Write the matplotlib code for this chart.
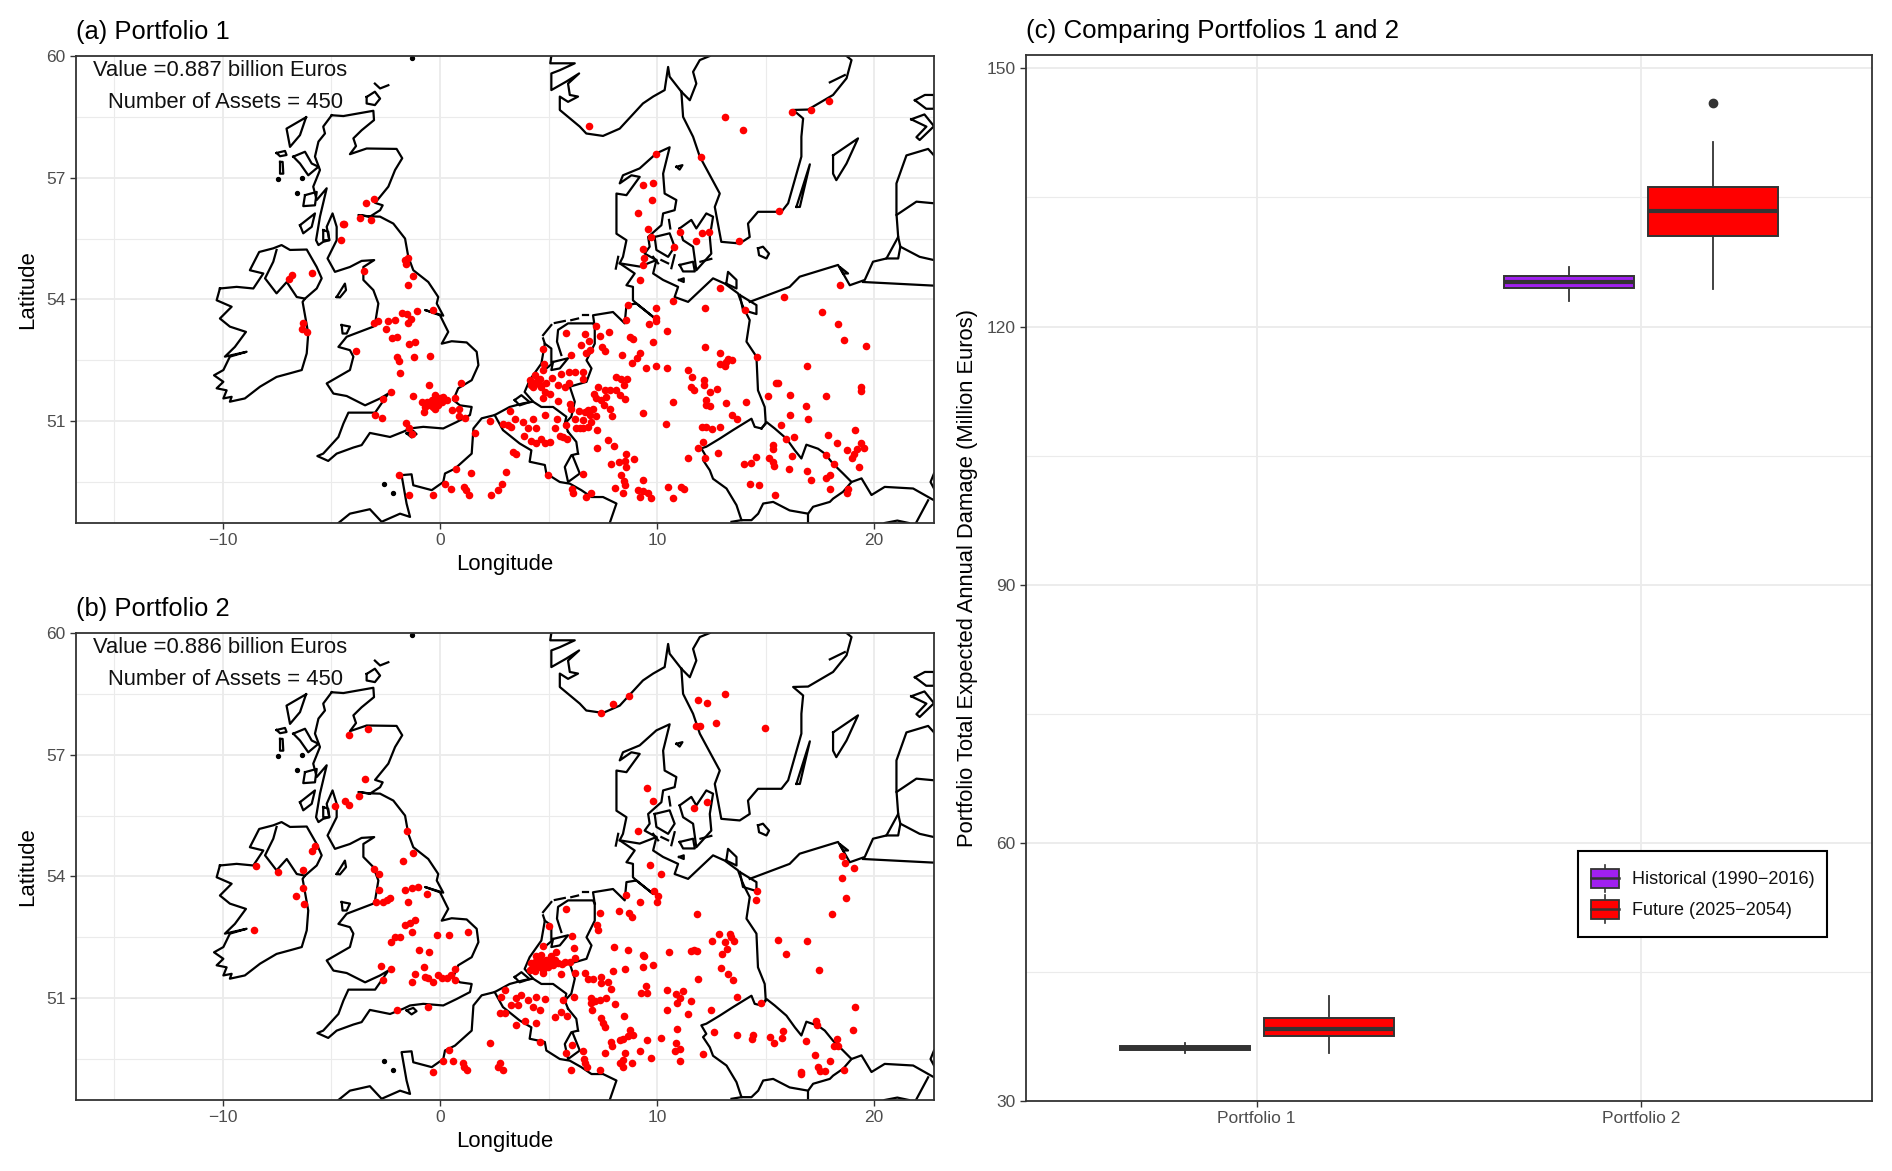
import numpy as np
import matplotlib
matplotlib.use('Agg')
import matplotlib.pyplot as plt
from matplotlib.legend_handler import HandlerBase
from matplotlib.lines import Line2D
from matplotlib.patches import Patch, Rectangle

plt.rcParams['font.family'] = ['Liberation Sans', 'DejaVu Sans']

# Outlines as (lon, lat)
great_britain = [(-4.99,58.54),(-4.45,58.52),(-3.07,58.65),(-3.04,58.42),(-3.61,58.17),(-3.99,57.97),(-3.87,57.78),(-4.15,57.58),
    (-3.38,57.72),(-2.0,57.71),(-1.74,57.48),(-2.07,57.19),(-2.38,56.78),(-2.99,56.38),(-2.64,56.32),(-2.76,56.2),(-3.23,56.04),
    (-3.76,56.08),(-3.3,56.05),(-2.76,56.04),(-2.15,55.87),(-1.61,55.5),(-1.46,55.05),(-1.23,54.72),(-0.54,54.43),(-0.08,54.06),
    (-0.15,53.9),(0.15,53.6),(-0.69,53.74),(0,53.61),(0.38,53.2),(0.08,52.91),(0.54,52.97),(1.23,52.94),(1.69,52.71),(1.77,52.38),
    (1.46,52.01),(0.84,51.81),(0.61,51.52),(0.92,51.39),(1.46,51.35),(1.38,51.15),(0.77,50.98),(0.15,50.82),(-0.77,50.86),(-1.38,50.82),
    (-1.69,50.74),(-2.3,50.61),(-3.23,50.71),(-3.61,50.41),(-3.99,50.35),(-4.76,50.2),(-5.15,50.02),(-5.65,50.14),(-5.38,50.2),
    (-4.68,50.61),(-4.45,50.94),(-4.22,51.21),(-2.99,51.21),(-2.38,51.68),(-2.76,51.56),(-3.45,51.39),(-4.3,51.62),(-4.91,51.68),
    (-5.22,51.93),(-4.15,52.26),(-3.99,52.59),(-4.15,52.75),(-4.68,52.83),(-4.3,53.08),(-3.07,53.33),(-2.99,53.41),(-2.84,53.9),
    (-3.07,54.23),(-3.53,54.48),(-3.53,54.8),(-3.03,54.97),(-3.61,54.95),(-4.15,54.8),(-4.84,54.68),(-5.18,55.01),(-4.76,55.46),
    (-4.76,55.79),(-4.95,56.12),(-5.22,55.79),(-5.1,55.46),(-5.38,55.42),(-5.6,55.34),(-5.71,55.46),(-5.53,56.04),(-5.22,56.74),
    (-5.68,56.45),(-5.84,56.78),(-5.53,57.19),(-5.76,57.52),(-5.6,57.89),(-5.3,58.09),(-5.38,58.26),(-4.99,58.54)]
ireland = [(-10.14,54.27),(-9.37,54.31),(-8.6,54.27),(-8.14,54.64),(-8.76,54.72),(-8.33,55.17),(-7.68,55.26),(-7.3,55.34),(-6.91,55.22),
    (-6.14,55.23),(-5.68,54.8),(-5.45,54.52),(-5.68,54.27),(-6.22,54.02),(-6.33,53.94),(-6.07,53.16),(-6.14,52.67),(-6.37,52.26),
    (-6.91,52.18),(-7.53,52.09),(-8.29,51.85),(-8.99,51.56),(-9.68,51.48),(-9.6,51.6),(-9.98,51.56),(-9.83,51.76),(-10.29,51.81),
    (-9.98,51.97),(-10.41,52.13),(-9.98,52.26),(-9.68,52.59),(-8.91,52.71),(-9.91,52.59),(-9.45,52.83),(-8.94,53.2),(-9.68,53.33),
    (-10.14,53.53),(-9.6,53.82),(-10.29,53.98),(-10.14,54.27)]
ni_border = [(-7.53,55.22),(-7.68,54.93),(-8.06,54.52),(-7.53,54.15),(-7.06,54.43),(-6.6,54.06),(-6.22,54.02)]
lewis = [(-6.17,58.49),(-7.07,58.21),(-6.91,57.76),(-6.45,58.05),(-6.17,58.49)]
uist = [(-7.37,57.39),(-7.25,57.39),(-7.22,57.1),(-7.37,57.1),(-7.37,57.39)]
barra = [(-7.53,57.61),(-7.14,57.66),(-7.07,57.56),(-7.37,57.53),(-7.53,57.61)]
skye = [(-6.76,57.52),(-6.22,57.64),(-5.91,57.35),(-5.6,57.27),(-6.07,57.06),(-6.45,57.35),(-6.76,57.52)]
mull = [(-6.22,56.57),(-5.68,56.65),(-5.76,56.32),(-6.3,56.3),(-6.22,56.57)]
jura = [(-6.45,55.83),(-5.76,56.12),(-5.91,55.79),(-6.3,55.63),(-6.45,55.83)]
arran = [(-5.38,55.71),(-5.15,55.67),(-5.1,55.46),(-5.38,55.46),(-5.38,55.71)]
orkney = [(-3.38,58.99),(-3.0,59.12),(-2.76,58.95),(-3.0,58.79),(-3.38,58.83),(-3.38,58.99)]
shetland = [(-3.0,59.32),(-2.76,59.2),(-2.38,59.28)]
isle_of_man = [(-4.76,54.06),(-4.38,54.39),(-4.33,54.23),(-4.61,54.05),(-4.76,54.06)]
anglesey = [(-4.53,53.37),(-4.15,53.33),(-4.3,53.16),(-4.49,53.16),(-4.53,53.37)]
wight = [(-1.54,50.7),(-1.23,50.76),(-1.08,50.68),(-1.31,50.6),(-1.54,50.7)]

france_coast = [(-4.68,48.49),(-4.15,48.72),(-3.23,48.83),(-2.69,48.52),(-1.84,48.72),(-1.38,48.64),(-1.54,48.97),(-1.77,49.67),
    (-1.31,49.69),(-1.23,49.42),(-0.38,49.3),(0.15,49.5),(0.23,49.71),(0.69,49.83),(1.46,50.2),(1.54,50.82),(1.92,51.07),(2.52,51.15),
    (3.21,51.35),(3.83,51.44),(4.29,51.48),(3.9,51.72),(4.13,52.01),(4.67,52.42),(4.83,52.91),(4.75,53.04)]
holland_inner = [(4.83,52.91),(5.13,52.79),(5.13,52.4),(4.9,52.3)]
friesland = [(5.59,52.63),(5.39,52.96),(5.44,53.25),(5.9,53.41),(7.05,53.41),(7.13,53.33)]
flevoland = [(5.21,52.46),(5.9,52.55),(5.52,52.3),(5.13,52.26),(5.21,52.46)]
wadden_1 = [(4.75,53.12),(5.13,53.37)]
wadden_2 = [(5.29,53.42),(5.75,53.47)]
wadden_3 = [(6.05,53.49),(6.36,53.53)]
wadden_4 = [(6.59,53.61),(6.82,53.61)]
zeeland = [(3.44,51.52),(3.75,51.64),(4.13,51.47),(3.67,51.39),(3.44,51.52)]
nl_de_border = [(7.13,53.33),(7.13,52.91),(6.75,52.5),(6.98,52.3),(6.75,51.97),(5.98,51.85),(6.21,51.48),(6.05,51.11),(5.75,50.94),(5.9,50.74)]
nl_be_border = [(4.29,51.48),(4.67,51.35),(5.21,51.35),(5.82,51.11),(5.75,50.94)]
be_de_border = [(5.9,50.74),(6.28,50.49),(6.36,50.2)]
luxembourg = [(6.36,50.2),(6.05,50.16),(5.75,49.87),(5.9,49.5),(6.44,49.71),(6.13,50.12)]
fr_border = [(2.52,51.15),(2.9,50.78),(3.67,50.45),(4.21,50.28),(4.13,50.0),(4.83,49.92),(4.9,49.71),(5.52,49.5),(5.98,49.46),
    (6.51,49.3),(6.98,49.13),(7.51,49.13),(8.13,48.97),(7.82,48.49)]

north_coast = [(7.13,53.33),(7.05,53.61),(7.97,53.69),(8.28,53.53),(8.51,53.41),(8.59,53.86),(9.05,53.9),(9.82,53.57),(9.05,53.9),
    (8.89,53.98),(8.89,54.31),(8.59,54.35),(8.97,54.64),(8.28,54.89),(8.43,55.05),(8.59,55.46),(8.13,55.62),(8.13,56.61),(8.59,56.57),
    (9.2,57.02),(8.82,57.06),(8.28,56.86),(8.43,57.06),(9.2,57.23),(9.97,57.6),(10.58,57.75),(10.28,57.1),(10.35,56.61),(10.89,56.45),
    (10.81,56.2),(10.28,56.12),(10.2,55.83),(9.59,55.54),(9.66,55.3),(9.43,55.13),(9.97,54.97),(9.82,54.64),(10.28,54.48),(10.97,54.31),
    (10.81,54.06),(11.43,53.94),(12.58,54.52),(13.12,54.39),(13.73,54.15),(13.96,53.82)]
dk_de_border = [(8.28,54.89),(9.2,54.81),(9.97,54.97)]
baltic_coast = [(14.27,53.94),(16.11,54.31),(16.57,54.56),(18.34,54.85),(18.57,54.64),(18.8,54.64),(18.42,54.8),(18.57,54.64),(18.88,54.35),
    (19.57,54.48),(19.95,54.93),(20.57,55.01),(21.11,55.54),(21.03,56.12),(21.03,56.86),(21.49,57.55),(22.49,57.71),(22.76,57.55)]
szczecin = [(13.81,54.11),(14.58,53.86),(14.58,53.64),(13.96,53.74),(13.81,54.11)]
pl_de_border = [(13.96,53.82),(14.27,53.49),(14.12,52.96),(14.58,52.59),(14.65,51.76),(14.96,51.35),(15.01,50.94),(14.81,50.82)]
kaliningrad = [(19.49,54.43),(22.76,54.34)]
latvia_border = [(21.03,56.08),(21.95,56.41),(22.76,56.37)]
lith_border = [(20.57,55.01),(21.11,55.01),(21.21,55.3),(22.1,55.05),(22.76,54.97)]
lith_link = [(21.11,55.54),(21.21,55.3)]

czechia = [(14.81,50.82),(14.5,50.86),(14.35,51.06),(13.5,50.78),(12.89,50.57),(12.27,50.37),(12.04,50.33),(12.27,50.12),(12.12,50.04),
    (12.43,49.79),(12.58,49.58),(13.2,49.34),(13.66,48.93),(13.89,48.56),(14.35,48.56),(14.66,48.72),(14.89,48.97),(15.35,49.01),(16.11,48.8),
    (16.96,48.72),(17.19,48.89),(17.96,49.01),(18.11,49.09),(18.57,49.26),(18.96,49.5),(18.57,49.71),(18.11,49.95),(17.73,50.2),(17.42,50.32),
    (16.88,50.42),(16.65,50.08),(16.35,50.28),(15.96,50.57),(15.42,50.82),(15.04,50.98),(14.81,50.82)]
slovak_border = [(18.96,49.5),(19.42,49.59),(19.88,49.18),(20.49,49.38),(21.8,49.34),(22.76,49.05)]
south_line_1 = [(16.96,48.72),(16.96,48.49)]
south_line_2 = [(22.49,49.05),(21.93,48.49)]
south_line_3 = [(13.89,48.56),(13.43,48.52)]
south_line_4 = [(20.49,48.49),(21.07,48.55),(21.6,48.49)]
south_line_5 = [(22.76,49.71),(22.6,49.5),(22.76,49.34)]

norway = [(5.13,60.0),(5.08,59.82),(6.21,59.82),(5.52,59.65),(5.13,59.57),(5.13,59.16),(5.82,59.37),(6.41,59.57),(5.9,59.32),(5.98,59.04),
    (6.36,59.0),(5.9,58.87),(5.52,59.0),(5.52,58.67),(6.44,58.26),(6.74,58.09),(7.51,58.03),(8.28,58.21),(9.35,58.83),(9.82,59.0),
    (10.35,59.16),(10.51,59.73),(10.58,59.49),(11.12,59.12)]
no_se_border = [(11.12,59.12),(11.51,58.91),(11.81,59.32),(11.66,59.61),(11.97,59.9),(12.43,60.0)]
sweden = [(11.12,59.12),(11.2,58.5),(11.66,58.01),(11.97,57.52),(12.89,56.61),(12.66,56.28),(12.96,55.42),(13.81,55.38),(14.27,55.54),
    (14.19,55.87),(14.65,56.16),(15.73,56.16),(16.04,56.37),(16.65,57.52),(16.65,58.01),(16.73,58.46),(16.27,58.67),(16.96,58.68),
    (18.11,59.04),(18.73,59.45),(18.96,59.9),(18.73,60.0)]

funen = [(9.89,55.54),(10.58,55.63),(10.81,55.3),(10.51,55.05),(9.97,55.22),(9.89,55.54)]
zealand = [(11.04,55.75),(11.58,55.96),(11.81,55.75),(12.27,56.12),(12.58,56.04),(12.43,55.54),(12.5,55.13),(11.81,54.72),(11.66,55.3),(11.2,55.46),(11.04,55.75)]
lolland = [(11.04,54.85),(11.66,54.93),(11.74,54.69),(11.2,54.69),(11.04,54.85)]
falster = [(12.0,54.93),(12.5,55.0)]
samso = [(10.55,55.96),(10.61,55.75)]
langeland = [(10.81,55.09),(10.66,54.77)]
laeso = [(10.89,57.27),(11.17,57.31),(11.04,57.2),(10.89,57.27)]
aero = [(9.82,55.05),(10.05,54.89)]
aero_2 = [(10.2,54.97),(10.51,54.89)]
fehmarn = [(11.01,54.48),(11.23,54.52),(11.23,54.43),(11.01,54.48)]
sylt = [(8.21,55.05),(8.1,54.76)]
rugen = [(13.19,54.39),(13.27,54.68),(13.66,54.48),(13.66,54.27),(13.19,54.39)]
bornholm = [(14.65,55.26),(14.88,55.3),(15.16,55.13),(15.04,55.01),(14.7,55.09),(14.65,55.26)]
oland = [(16.42,56.28),(17.04,57.33),(16.58,56.28),(16.42,56.28)]
gotland = [(18.11,57.55),(19.26,57.97),(18.73,57.35),(18.26,56.94),(18.11,57.1),(18.11,57.55)]
stockholm = [(17.96,59.35),(18.65,59.53)]
saaremaa = [(21.88,58.91),(22.34,59.04),(22.76,59.04),(22.76,58.7),(22.4,58.7),(21.88,58.91)]
hiiumaa = [(21.71,58.44),(22.32,58.56),(22.76,58.27),(22.1,57.93),(21.95,58.0),(22.41,58.26),(21.71,58.44)]
small_islets = [(-7.48,56.98),(-6.34,57.0),(-6.57,56.63),(-1.27,59.94),(-2.57,49.46),(-2.15,49.22)]

outlines = [great_britain, ireland, ni_border, lewis, uist, barra, skye, mull, jura, arran, orkney, shetland, isle_of_man, anglesey, wight,
    france_coast, holland_inner, friesland, flevoland, wadden_1, wadden_2, wadden_3, wadden_4, zeeland, nl_de_border, nl_be_border,
    be_de_border, luxembourg, fr_border, north_coast, dk_de_border, baltic_coast, szczecin, pl_de_border, kaliningrad, latvia_border,
    lith_border, lith_link, czechia, slovak_border, south_line_1, south_line_2, south_line_3, south_line_4, south_line_5, norway,
    no_se_border, sweden, funen, zealand, lolland, falster, samso, langeland, laeso, aero, aero_2, fehmarn, sylt, rugen, bornholm,
    oland, gotland, stockholm, saaremaa, hiiumaa]

# Asset locations, portfolio 1
assets_1_west = [(-3.43,56.38),(-3.03,56.47),(-4.41,55.85),(-4.49,55.86),(-3.69,56.0),(-3.2,55.95),(-4.56,55.46),(-1.61,54.97),(-1.46,55.01),
    (-1.57,54.87),(-1.26,54.57),(-1.49,54.35),(-3.5,54.7),(-6.84,54.61),(-6.96,54.5),(-5.91,54.64),(-0.31,53.75),(-1.04,53.71),(-1.74,53.67),
    (-1.51,53.64),(-1.35,53.51),(-1.46,53.41),(-2.07,53.49),(-2.38,53.47),(-2.87,53.47),(-3.04,53.41),(-2.49,53.26),(-2.23,53.05),(-2.0,53.08),
    (-1.43,52.9),(-1.14,52.94),(-3.89,52.73),(-1.2,52.59),(-0.46,52.61),(-2.0,52.59),(-1.89,52.48),(-1.86,52.18),(-6.3,53.43),(-6.37,53.28),
    (-6.11,53.2),(0.97,51.93),(-0.51,51.88),(-2.26,51.73),(-2.64,51.54),(-1.26,51.62),(-3.0,51.15),(-2.69,51.09),(-1.58,50.96),(-1.41,50.82),
    (-1.31,50.68),(-0.84,51.48),(-0.69,51.35),(-0.54,51.44),(-0.38,51.52),(-0.23,51.64),(-0.15,51.48),(0,51.56),(0.15,51.6),(-0.31,51.35),
    (-0.08,51.39),(-0.61,51.48),(-0.74,51.23),(-0.18,51.56),(0.31,51.52),(0.69,51.56),(0.54,51.27),(0.88,51.31),(0.88,51.12),(1.15,51.09),
    (-0.46,51.39),(-0.23,51.31),(0.08,51.48),(1.61,50.7),(0.72,49.83),(1.43,49.73),(-1.87,49.68),(0.23,49.46),(0.51,49.34),(-1.41,49.18),
    (-0.31,49.17),(1.12,49.38),(1.2,49.3),(1.35,49.17)]
assets_1_east = [(6.87,58.27),(13.12,58.49),(13.95,58.17),(16.22,58.62),(17.08,58.68),(17.93,58.9),(12.04,57.52),(9.96,57.58),(9.36,56.83),
    (9.82,56.87),(9.79,56.46),(9.1,56.13),(9.59,55.73),(9.71,55.53),(9.36,55.24),(9.39,55.03),(9.33,54.84),(9.23,54.49),(11.05,55.67),(12.09,55.64),
    (12.4,55.65),(11.78,55.44),(10.77,55.29),(15.62,56.19),(13.76,55.43),(12.89,54.28),(18.45,54.36),(15.85,54.05),(10.74,53.97),(9.94,53.79),
    (12.23,53.79),(8.66,53.86),(8.59,53.49),(9.97,53.55),(9.97,53.46),(9.63,53.4),(14.04,53.73),(17.6,53.69),(18.36,53.39),(10.46,53.23),(7.79,53.2),
    (7.18,53.34),(7.36,53.09),(18.6,53.0),(19.62,52.86),(12.23,52.84),(8.74,53.08),(8.9,53.02),(9.8,52.96),(7.48,52.83),(7.59,52.73),(12.9,52.67),
    (8.37,52.62),(9.2,52.67),(9.08,52.56),(8.83,52.44),(14.62,52.58),(13.27,52.54),(13.47,52.5),(13.2,52.46),(12.92,52.4),(13.15,52.37),(16.91,52.36),
    (9.97,52.36),(10.48,52.3),(9.48,52.3),(11.43,52.27),(11.61,52.09)]
assets_1_benelux = [(5.82,53.18),(6.68,53.16),(6.85,52.98),(6.5,52.87),(6.9,52.75),(6.71,52.67),(6.05,52.62),(4.75,52.79),(4.79,52.42),(5.95,52.21),
    (6.21,52.21),(6.59,52.21),(5.59,52.16),(5.18,52.07),(6.59,52.05),(4.13,52.01),(4.44,51.97),(4.67,51.85),(4.21,51.89),(4.59,52.05),(5.44,51.9),
    (5.75,51.85),(5.95,51.94),(4.86,51.72),(5.06,51.68),(4.75,51.56),(4.36,52.13),(4.75,52.26),(4.29,51.85),(4.9,51.93),(4.5,52.0),(4.6,51.9)]
assets_1_central = [(8.1,52.09),(8.36,52.05),(8.63,52.03),(8.47,51.89),(7.28,51.83),(7.59,51.76),(7.82,51.76),(8.13,51.76),(8.28,51.64),(7.1,51.68),
    (7.21,51.56),(7.44,51.52),(7.67,51.6),(7.54,51.39),(8.51,51.54),(5.44,51.49),(5.98,51.43),(6.05,51.31),(7.82,51.31),(7.93,51.12),(7.05,51.31),
    (6.82,51.27),(6.67,51.23),(6.41,51.25),(7.21,51.13),(6.9,51.15),(6.59,51.02),(6.21,51.05),(6.98,50.98),(6.82,50.86),(6.59,50.82),(6.28,50.82),
    (6.44,50.82),(7.24,50.78),(12.15,52.01),(12.15,51.89),(11.58,51.83),(11.71,51.76),(12.43,51.72),(12.77,51.8),(15.47,51.95),(15.58,51.93),
    (19.39,51.85),(19.39,51.74),(15.12,51.62),(16.11,51.64),(17.79,51.61),(10.75,51.48),(12.27,51.52),(12.27,51.39),(12.43,51.38),(13.2,51.45),
    (14.1,51.46),(16.85,51.38),(9.36,51.19),(16.11,51.16),(13.47,51.15),(13.69,51.05),(16.96,51.05),(4.83,51.15),(4.29,51.06),(5.39,51.06),(3.21,51.25),
    (3.44,51.06),(3.83,50.98),(2.29,51.01),(2.9,50.92),(3.14,50.9),(3.29,50.86),(4.06,50.83),(4.44,50.83),(5.3,50.82),(5.82,50.9)]
assets_1_south = [(10.39,50.94),(12.09,50.86),(12.24,50.86),(12.55,50.8),(12.89,50.85),(15.73,50.9),(19.11,50.78),(17.88,50.67),(3.86,50.64),(5.52,50.64),
    (5.67,50.61),(5.85,50.57),(4.21,50.51),(4.44,50.47),(4.67,50.55),(4.86,50.47),(5.09,50.49),(7.74,50.53),(8.02,50.39),(7.25,50.35),(12.14,50.49),
    (11.89,50.33),(15.96,50.57),(16.31,50.6),(15.35,50.41),(15.32,50.31),(18.27,50.45),(19.39,50.47),(19.52,50.33),(19.19,50.32),(18.73,50.28),
    (19.06,50.2),(3.37,50.23),(3.49,50.18),(12.83,50.22),(11.43,50.1),(12.2,50.1),(8.56,50.2),(8.94,50.06),(8.25,50.0),(8.51,50.02),(8.56,49.87),
    (7.9,49.94),(14.01,49.94),(14.35,49.97),(14.58,50.12),(15.16,50.08),(15.32,50.0),(15.39,49.89),(16.24,50.15),(17.8,50.17),(19.0,50.09),(18.16,49.95),
    (19.31,49.86),(3.06,49.74),(4.98,49.67),(6.59,49.71),(8.33,49.68),(16.08,49.82),(16.91,49.76),(17.96,49.68),(17.8,49.59),(17.11,49.55),(8.48,49.53),
    (8.51,49.42),(9.36,49.56),(2.84,49.45),(2.67,49.31),(2.37,49.17),(14.27,49.46),(14.69,49.42),(10.51,49.38),(11.12,49.38),(11.25,49.34),(8.08,49.35),
    (6.1,49.34),(6.13,49.24),(9.1,49.3),(9.36,49.27),(9.59,49.24),(8.45,49.22),(6.98,49.22),(17.96,49.33),(18.8,49.33),(18.73,49.22),(15.45,49.17),
    (6.71,49.13),(9.2,49.13),(9.71,49.1),(10.74,49.11)]

# Asset locations, portfolio 2
assets_2_west = [(-4.21,57.48),(-3.3,57.64),(-3.46,56.41),(-4.38,55.87),(-4.18,55.75),(-3.73,55.99),(-4.84,55.74),(-1.51,55.13),(-1.23,54.57),(-1.69,54.37),
    (-8.48,54.26),(-7.45,54.1),(-6.33,54.15),(-5.76,54.74),(-5.91,54.62),(-3.04,54.18),(-2.8,54.06),(-2.81,53.67),(-6.3,53.71),(-6.64,53.52),(-6.27,53.33),
    (-1.61,53.67),(-1.27,53.72),(-1.0,53.73),(-0.61,53.57),(-1.46,53.38),(-2.3,53.46),(-2.46,53.41),(-2.64,53.36),(-2.95,53.38),(-1.14,52.93),(-1.38,52.85),
    (-1.61,52.81),(-8.57,52.67),(-1.31,52.64),(1.31,52.62),(0.43,52.55),(-0.15,52.55),(-1.84,52.5),(-2.07,52.5),(-2.26,52.39),(-0.95,52.19),(-0.49,52.13),
    (-2.73,51.8),(-2.27,51.72),(-0.72,51.76),(0.69,51.72),(-1.14,51.59),(-1.29,51.39),(-2.61,51.45),(-0.69,51.51),(-0.54,51.49),(-0.31,51.41),(-0.08,51.58),
    (0.08,51.49),(0.31,51.49),(0.49,51.58),(0.69,51.45),(-0.54,50.79),(-2.0,50.7),(0.41,49.73),(0.12,49.46),(0.58,49.46),(1.08,49.4),(1.11,49.31),(1.23,49.23),(-0.34,49.18)]
assets_2_north = [(7.44,58.02),(7.97,58.26),(8.7,58.45),(11.89,58.35),(12.31,58.27),(13.15,58.5),(11.78,57.7),(11.97,57.72),(12.72,57.77),(14.98,57.66),(9.54,56.18),
    (9.83,55.85),(11.71,55.68),(12.29,55.83),(9.11,55.13),(9.66,54.29),(10.19,54.05),(18.54,54.51),(18.65,54.34),(19.08,54.2),(18.53,53.97),(18.7,53.47),(18.05,53.08),
    (14.62,53.65),(14.55,53.42),(9.86,53.63),(10.05,53.51),(10.0,53.38),(9.2,53.37),(8.59,53.55),(8.24,53.14),(7.36,53.1),(5.82,53.19),(8.71,53.1),(8.86,53.01),
    (11.84,53.07),(7.24,52.81),(7.28,52.68),(5.01,52.77),(12.87,52.59),(13.35,52.58),(13.43,52.5),(13.55,52.42),(12.51,52.41),(13.12,52.38),(13.21,52.21),(13.01,52.08),
    (15.56,52.44),(16.91,52.4),(15.93,52.08),(6.1,52.52),(4.75,52.29),(8.02,52.27),(8.65,52.18),(6.18,52.23),(5.36,52.15),(10.54,52.14),(11.58,52.17),(11.69,52.19),
    (11.86,52.17),(9.36,52.07),(9.39,52.03),(9.82,51.81),(9.37,51.78),(8.53,51.71),(7.96,51.67),(12.94,51.75),(13.27,51.59),(17.47,51.7)]
assets_2_benelux = [(4.21,51.86),(4.44,52.03),(4.67,52.07),(4.9,51.94),(5.13,52.03),(5.44,51.86),(5.75,51.9),(6.21,51.99),(4.13,51.7),(4.52,51.78),(4.75,51.7),
    (4.98,51.78),(5.21,51.82),(4.36,51.66),(4.75,51.62),(4.4,51.9),(4.6,51.95),(4.8,51.85),(5.0,51.9),(4.3,51.78),(4.6,51.8),(5.3,51.95),(5.6,51.85),(6.0,51.88)]
assets_2_central = [(6.21,51.63),(5.59,51.59),(6.67,51.62),(6.82,51.47),(7.05,51.47),(7.41,51.52),(7.74,51.41),(7.44,51.37),(7.87,51.22),(11.89,51.47),(13.5,51.45),
    (9.51,51.31),(9.28,51.12),(9.54,51.12),(10.45,51.21),(11.2,51.18),(10.89,51.11),(11.05,51.0),(10.92,50.88),(13.69,51.02),(11.55,50.93),(6.16,51.04),(6.94,51.0),
    (7.64,51.01),(7.36,50.96),(7.13,50.93),(6.98,50.88),(5.67,50.96),(8.05,50.85),(4.83,50.97),(2.98,51.19),(2.83,51.03),(3.75,51.08),(3.52,51.0),(4.06,50.96),(4.44,51.02),
    (3.29,50.84),(3.6,50.84),(4.29,50.79),(4.59,50.71),(7.02,50.71),(10.46,50.71),(12.49,50.7),(19.1,50.79),(14.81,50.88),(11.43,50.6),(2.75,50.63),(2.98,50.63),(5.59,50.67),
    (5.29,50.53),(5.85,50.57),(8.48,50.55),(3.9,50.44),(7.41,50.51),(7.51,50.4),(4.41,50.38),(3.52,50.34),(7.59,50.28),(10.94,50.25),(17.33,50.44),(17.37,50.34),(19.03,50.21)]
assets_2_south = [(8.74,50.22),(12.63,50.16),(13.7,50.1),(14.43,50.1),(14.38,50.0),(15.19,50.04),(15.81,50.19),(15.76,50.02),(10.2,50.02),(8.9,50.1),(8.67,50.07),(8.43,49.99),
    (8.28,49.97),(9.56,49.96),(4.59,49.93),(16.85,49.95),(15.38,49.9),(18.3,49.99),(7.9,49.91),(7.93,49.83),(10.86,49.89),(6.1,49.84),(2.29,49.89),(18.14,49.83),(18.34,49.81),
    (11.05,49.74),(10.83,49.69),(9.23,49.69),(6.59,49.71),(5.79,49.66),(8.51,49.66),(7.59,49.64),(12.14,49.63),(17.27,49.6),(9.71,49.53),(8.43,49.48),(8.28,49.4),(11.05,49.44),
    (6.62,49.5),(6.7,49.4),(8.85,49.4),(17.96,49.46),(8.43,49.3),(6.78,49.3),(2.78,49.4),(2.67,49.31),(2.91,49.22),(17.42,49.3),(6.05,49.24),(7.38,49.24),(17.5,49.2),(17.73,49.21),
    (16.61,49.19),(16.61,49.13),(18.63,49.23)]

portfolio_1_sites = assets_1_west + assets_1_east + assets_1_benelux + assets_1_central + assets_1_south
portfolio_2_sites = assets_2_west + assets_2_north + assets_2_benelux + assets_2_central + assets_2_south

# Panel (c) boxes
box_positions = [0.8125, 1.1875, 1.8125, 2.1875]
box_labels = ['Historical (1990\u22122016)', 'Future (2025\u22122054)']
box_colors = ['#A020F0', '#FF0000', '#A020F0', '#FF0000']
whisker_low = [35.6, 35.6, 123.0, 124.4]
box_low = [35.95, 37.6, 124.5, 130.5]
box_median = [36.15, 38.4, 125.2, 133.4]
box_high = [36.35, 39.7, 125.9, 136.2]
whisker_high = [36.7, 42.2, 126.9, 141.4]
outliers = [[], [], [], [146.0]]

W, H = 1892, 1171
DARK = '#333333'
GRID = '#EBEBEB'


def rect(left, top, right, bottom):
    return [left / W, 1 - bottom / H, (right - left) / W, (bottom - top) / H]


def style_axes(ax):
    for s in ax.spines.values():
        s.set_color(DARK)
        s.set_linewidth(1.3)
    ax.tick_params(which='major', color=DARK, labelcolor='#4D4D4D', labelsize=12.5, length=4, width=1)
    ax.tick_params(which='minor', length=0)
    ax.grid(True, which='major', color=GRID, linewidth=1.3)
    ax.grid(True, which='minor', color=GRID, linewidth=0.8)
    ax.set_axisbelow(True)


def draw_map(ax, sites, title, value_text):
    for shape in outlines:
        pts = np.array(shape)
        ax.plot(pts[:, 0], pts[:, 1], color='black', linewidth=1.6, solid_joinstyle='round', zorder=2)
    dots = np.array(small_islets)
    ax.scatter(dots[:, 0], dots[:, 1], s=8, color='black', zorder=2)
    pts = np.array(sites)
    ax.scatter(pts[:, 0], pts[:, 1], s=30, color='#FF0000', linewidths=0, zorder=3)
    ax.set_xlim(-16.77, 22.76)
    ax.set_ylim(48.49, 60)
    ax.set_xticks([-10, 0, 10, 20])
    ax.set_xticklabels(['\u221210', '0', '10', '20'])
    ax.set_xticks([-15, -5, 5, 15], minor=True)
    ax.set_yticks([51, 54, 57, 60])
    ax.set_yticks([49.5, 52.5, 55.5, 58.5], minor=True)
    style_axes(ax)
    ax.set_xlabel('Longitude', fontsize=15.9, labelpad=4)
    ax.set_ylabel('Latitude', fontsize=15.9, labelpad=6)
    ax.set_title(title, loc='left', fontsize=18.4, pad=12.5)
    ax.text(-10.14, 59.65, value_text, fontsize=15.8, ha='center', va='center', color='#111111')
    ax.text(-9.86, 58.86, 'Number of Assets = 450', fontsize=15.8, ha='center', va='center', color='#111111')


class BoxKey(HandlerBase):
    def create_artists(self, legend, orig_handle, xdescent, ydescent, width, height, fontsize, trans):
        cx = width / 2 - xdescent
        cy = height / 2 - ydescent
        whisker = Line2D([cx, cx], [cy - 10, cy + 10], color=DARK, linewidth=1.2, transform=trans)
        box = Rectangle((cx - 10, cy - 6.7), 20, 13.4, facecolor=orig_handle.get_facecolor(),
                        edgecolor=DARK, linewidth=1.3, transform=trans, zorder=3)
        median = Line2D([cx - 10, cx + 10], [cy, cy], color=DARK, linewidth=1.8, transform=trans, zorder=4)
        return [whisker, box, median]


fig = plt.figure(figsize=(W / 100, H / 100), dpi=100)

ax_a = fig.add_axes(rect(76, 56, 934, 523))
draw_map(ax_a, portfolio_1_sites, '(a) Portfolio 1', 'Value =0.887 billion Euros')

ax_b = fig.add_axes(rect(76, 633, 934, 1100))
draw_map(ax_b, portfolio_2_sites, '(b) Portfolio 2', 'Value =0.886 billion Euros')

ax_c = fig.add_axes(rect(1026, 55, 1872, 1101))
stats = []
for i in range(4):
    stats.append({'whislo': whisker_low[i], 'q1': box_low[i], 'med': box_median[i], 'q3': box_high[i],
                  'whishi': whisker_high[i], 'fliers': outliers[i]})
parts = ax_c.bxp(stats, positions=box_positions, widths=0.3375, patch_artist=True, showcaps=False, manage_ticks=False,
                 boxprops={'edgecolor': DARK, 'linewidth': 1.4},
                 whiskerprops={'color': DARK, 'linewidth': 1.3},
                 medianprops={'color': DARK, 'linewidth': 3.0, 'solid_capstyle': 'butt'},
                 flierprops={'marker': 'o', 'markerfacecolor': DARK, 'markeredgecolor': DARK, 'markersize': 6})
for patch, col in zip(parts['boxes'], box_colors):
    patch.set_facecolor(col)
ax_c.set_xlim(0.4, 2.6)
ax_c.set_ylim(30, 151.55)
ax_c.set_xticks([1, 2])
ax_c.set_xticklabels(['Portfolio 1', 'Portfolio 2'])
ax_c.set_yticks([30, 60, 90, 120, 150])
ax_c.set_yticks([45, 75, 105, 135], minor=True)
style_axes(ax_c)
ax_c.set_ylabel('Portfolio Total Expected Annual Damage (Million Euros)', fontsize=15.8, labelpad=6)
ax_c.set_title('(c) Comparing Portfolios 1 and 2', loc='left', fontsize=18.6, pad=12.5)

leg = ax_c.legend([Patch(facecolor=box_colors[0]), Patch(facecolor=box_colors[1])], box_labels,
                  handler_map={Patch: BoxKey()}, loc='lower left', bbox_to_anchor=(0.652, 0.157), borderaxespad=0,
                  fontsize=13, fancybox=False, framealpha=1, edgecolor='black', handlelength=1.6, handleheight=2.15,
                  borderpad=0.7, labelspacing=0.07, handletextpad=0.7)
leg.get_frame().set_linewidth(1.5)
for t in leg.get_texts():
    t.set_color('#111111')

fig.savefig('out.png', dpi=100)
